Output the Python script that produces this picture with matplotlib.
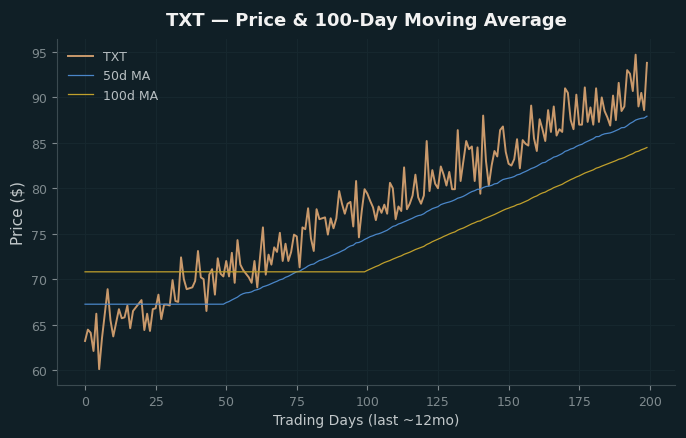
import matplotlib
matplotlib.use("Agg")
import matplotlib.pyplot as plt
import numpy as np
import pandas as pd

# daily closing prices (200 trading days)
price_0_49 = [63.2, 64.45, 64.1, 62.1, 66.2, 60.1, 63.5, 66.2, 68.9, 65.5,
              63.7, 65.2, 66.7, 65.7, 65.8, 67.1, 64.6, 66.5, 66.9, 67.3,
              67.7, 64.4, 66.2, 64.3, 66.7, 66.8, 68.3, 65.6, 67.2, 67.2,
              67.1, 69.9, 67.6, 67.5, 72.4, 70.0, 68.9, 69.0, 69.1, 69.8,
              73.1, 70.2, 70.0, 66.5, 70.5, 71.1, 68.3, 72.3, 70.6, 70.3]
price_50_99 = [72.0, 70.3, 72.9, 69.6, 74.3, 71.6, 71.0, 70.6, 70.2, 69.6,
               72.0, 69.1, 72.5, 75.7, 70.5, 72.7, 71.6, 73.5, 73.0, 75.1,
               72.0, 73.9, 72.0, 73.0, 74.9, 74.7, 71.3, 75.7, 75.5, 77.8,
               74.5, 73.1, 77.7, 76.6, 76.7, 76.8, 74.9, 76.7, 75.6, 76.7,
               79.7, 78.3, 77.2, 78.3, 78.5, 75.8, 80.8, 74.6, 77.5, 79.9]
price_100_149 = [79.4, 78.6, 77.9, 76.5, 78.0, 77.3, 78.2, 77.2, 80.6, 80.0,
                 76.6, 78.0, 77.5, 82.3, 77.7, 78.3, 79.2, 81.5, 79.0, 78.3,
                 79.2, 85.2, 79.7, 82.0, 80.5, 80.0, 82.4, 81.5, 80.3, 81.8,
                 79.9, 79.9, 86.4, 80.8, 83.0, 85.2, 84.3, 84.6, 80.8, 84.5,
                 79.4, 88.0, 83.0, 80.3, 82.5, 84.1, 83.5, 86.4, 86.8, 84.0]
price_150_199 = [82.7, 82.5, 83.2, 85.4, 82.2, 85.3, 84.9, 84.7, 89.1, 85.5,
                 84.1, 87.6, 86.5, 85.2, 88.6, 86.2, 89.0, 85.8, 86.5, 86.2,
                 91.0, 90.5, 87.5, 86.5, 90.3, 87.0, 87.0, 91.1, 87.3, 88.9,
                 87.0, 91.0, 87.3, 90.0, 88.5, 87.8, 86.9, 90.2, 87.5, 91.6,
                 88.5, 89.0, 93.0, 92.6, 90.7, 94.7, 89.0, 90.5, 88.6, 93.8]

prices = pd.Series(price_0_49 + price_50_99 + price_100_149 + price_150_199)
days = np.arange(len(prices))

# moving averages, leading gap filled with the first full-window value
ma50 = prices.rolling(50).mean().bfill()
ma100 = prices.rolling(100).mean().bfill()

bg = "#101f26"
fig, ax = plt.subplots(figsize=(6.86, 4.39), dpi=100)
fig.patch.set_facecolor(bg)
ax.set_facecolor(bg)
fig.subplots_adjust(left=0.083, right=0.984, top=0.909, bottom=0.121)

ax.plot(days, prices, color="#c9996b", linewidth=1.4, label="TXT")
ax.plot(days, ma50, color="#4a86c8", linewidth=0.9, label="50d MA")
ax.plot(days, ma100, color="#c0a02c", linewidth=0.9, label="100d MA")

ax.set_title("TXT \u2014 Price & 100-Day Moving Average", color="#f2f2f2",
             fontsize=13, fontweight="bold", pad=10)
ax.set_xlabel("Trading Days (last ~12mo)", color="#c2c8ca", fontsize=10)
ax.set_ylabel("Price ($)", color="#c2c8ca", fontsize=11)

ax.set_xticks(range(0, 201, 25))
ax.set_yticks(range(60, 96, 5))
ax.tick_params(colors="#7f8a8e", labelsize=9)
ax.grid(True, color="#16272e", linewidth=0.8)
ax.set_axisbelow(True)

for side in ("top", "right"):
    ax.spines[side].set_visible(False)
for side in ("left", "bottom"):
    ax.spines[side].set_color("#3b4a50")

leg = ax.legend(loc="upper left", frameon=False, fontsize=9)
for t in leg.get_texts():
    t.set_color("#b8bfc2")

plt.savefig("out.png", dpi=100, facecolor=bg)
